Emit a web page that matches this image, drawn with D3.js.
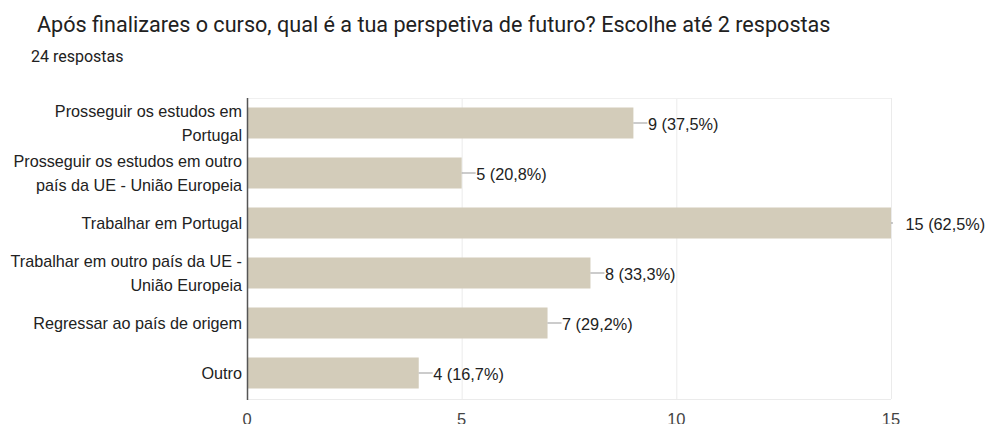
<!DOCTYPE html>
<html>
  <head>
    <meta charset="utf-8">
    <title>Perspetiva de futuro</title>
    <script src="https://cdnjs.cloudflare.com/ajax/libs/d3/7.8.5/d3.min.js"></script>
  </head>
  <style>
    body { margin: 0; background: #fff; }
    svg { display: block; }
  </style>
  <body>
    <svg></svg>
    <script>
      var categories = [
        ['Prosseguir os estudos em', 'Portugal'],
        ['Prosseguir os estudos em outro', 'país da UE - União Europeia'],
        ['Trabalhar em Portugal'],
        ['Trabalhar em outro país da UE -', 'União Europeia'],
        ['Regressar ao país de origem'],
        ['Outro']
      ];
      var counts = [9, 5, 15, 8, 7, 4];
      var percents = ['37,5%', '20,8%', '62,5%', '33,3%', '29,2%', '16,7%'];
      var ticks = [0, 5, 10, 15];
      var total = 24;

      var width = 989, height = 424;
      var plotLeft = 247, plotRight = 891, plotTop = 98, plotBottom = 398;
      var font = 'Arial, "Liberation Sans", sans-serif';

      var svg = d3.select('svg').attr('width', width).attr('height', height);

      svg.append('text')
        .attr('x', 37).attr('y', 32)
        .style('font-family', 'Roboto, sans-serif')
        .style('font-size', '21.6px')
        .style('fill', '#212121')
        .text('Após finalizares o curso, qual é a tua perspetiva de futuro? Escolhe até 2 respostas');

      svg.append('text')
        .attr('x', 31).attr('y', 62)
        .style('font-family', 'Roboto, sans-serif')
        .style('font-size', '16px')
        .style('fill', '#212121')
        .text(total + ' respostas');

      var x = d3.scaleLinear().domain([0, 15]).range([plotLeft, plotRight]);
      var y = d3.scaleBand().domain(d3.range(categories.length))
        .range([plotTop, plotBottom]).paddingInner(0.38).paddingOuter(0.19);

      // grid
      svg.append('g').selectAll('line')
        .data(ticks.slice(1))
        .enter().append('line')
        .attr('x1', function (d) { return x(d) + 0.5; })
        .attr('x2', function (d) { return x(d) + 0.5; })
        .attr('y1', plotTop).attr('y2', plotBottom + 1)
        .style('stroke', '#ebebeb');

      svg.append('line')
        .attr('x1', plotLeft).attr('x2', plotRight)
        .attr('y1', plotTop + 0.5).attr('y2', plotTop + 0.5)
        .style('stroke', '#f0f0f0');
      svg.append('line')
        .attr('x1', plotLeft).attr('x2', plotRight)
        .attr('y1', plotBottom + 1.5).attr('y2', plotBottom + 1.5)
        .style('stroke', '#ebebeb');

      // tick labels (cut by the bottom edge, as in the original)
      svg.append('g').selectAll('text')
        .data(ticks)
        .enter().append('text')
        .attr('x', function (d) { return x(d); })
        .attr('y', 425)
        .attr('text-anchor', 'middle')
        .style('font-family', font)
        .style('font-size', '16.5px')
        .style('fill', '#444')
        .text(function (d) { return d; });

      // bars
      svg.append('g').selectAll('rect')
        .data(counts)
        .enter().append('rect')
        .attr('x', x(0))
        .attr('y', function (d, i) { return y(i); })
        .attr('width', function (d) { return x(d) - x(0); })
        .attr('height', y.bandwidth())
        .style('fill', '#d3ccba');

      // value labels with leader lines
      var vals = svg.append('g').selectAll('g')
        .data(counts)
        .enter().append('g');

      vals.append('line')
        .attr('x1', function (d) { return x(d); })
        .attr('x2', function (d) { return x(d) + (d === 15 ? 2 : 14); })
        .attr('y1', function (d, i) { return y(i) + y.bandwidth() / 2; })
        .attr('y2', function (d, i) { return y(i) + y.bandwidth() / 2; })
        .style('stroke', '#999');

      vals.append('text')
        .attr('x', function (d) { return x(d) + 14.5; })
        .attr('y', function (d, i) { return y(i) + y.bandwidth() / 2; })
        .attr('dy', '0.42em')
        .style('font-family', font)
        .style('font-size', '16.3px')
        .style('fill', '#222')
        .text(function (d, i) { return d + ' (' + percents[i] + ')'; });

      // category labels
      var labels = svg.append('g').selectAll('text')
        .data(categories)
        .enter().append('text')
        .attr('text-anchor', 'end')
        .style('font-family', font)
        .style('font-size', '16.2px')
        .style('fill', '#222');

      labels.each(function (lines, i) {
        var el = d3.select(this);
        var cy = y(i) + y.bandwidth() / 2;
        var start = cy - (lines.length - 1) * 12;
        lines.forEach(function (t, j) {
          el.append('tspan')
            .attr('x', plotLeft - 5)
            .attr('y', start + j * 24)
            .attr('dy', '0.4em')
            .text(t);
        });
      });

      // vertical axis line
      svg.append('line')
        .attr('x1', plotLeft + 0.5).attr('x2', plotLeft + 0.5)
        .attr('y1', plotTop).attr('y2', plotBottom + 2)
        .style('stroke', '#555')
        .style('stroke-width', 1.5);
    </script>
  </body>
</html>
